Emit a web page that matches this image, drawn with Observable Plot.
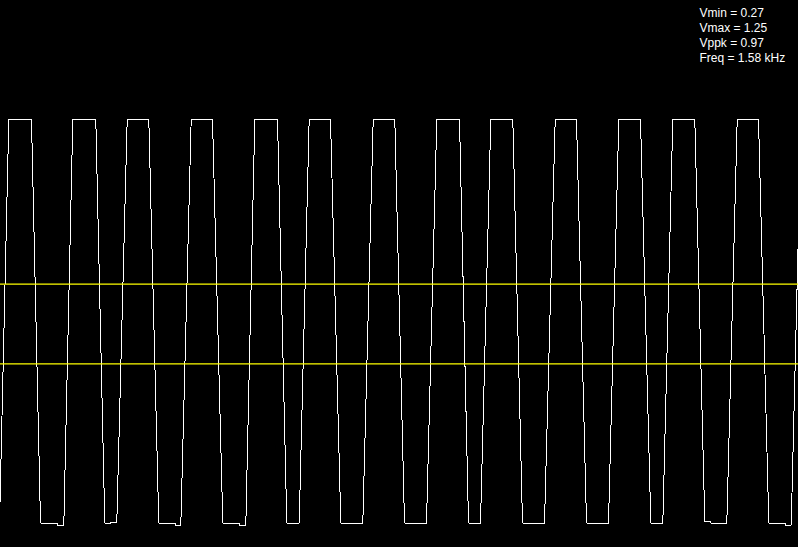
<!DOCTYPE html>
<html>
<head>
<meta charset="utf-8">
<script src="https://cdn.jsdelivr.net/npm/d3@7"></script>
<script src="https://cdn.jsdelivr.net/npm/@observablehq/plot@0.6"></script>
<style>
  html, body { margin: 0; padding: 0; background: #000; }
  #chart svg { display: block; }
</style>
</head>
<body>
<div id="chart"></div>
<script>
// Trace vertices: time (ms) and voltage (V)
const timeMs = [
  -0.209, -0.010, 0.0866, 0.3233, 0.4172, 0.5424, 0.5424, 0.5945, 0.5945, 0.6602,
  0.7541, 0.9940, 1.0878, 1.1473, 1.1473, 1.2130,
  1.3215, 1.5468, 1.6511, 1.7731, 1.7731, 1.8253, 1.8253, 1.8805,
  1.9890, 2.2112, 2.3186, 2.4406, 2.4406, 2.4928, 2.4928, 2.5585,
  2.6523, 2.8891, 2.9861, 3.1154,
  3.2197, 3.4419, 3.5493, 3.7788,
  3.8873, 4.1125, 4.2137, 4.4432,
  4.5506, 4.7874, 4.8812, 5.0064,
  5.1138, 5.3433, 5.4445, 5.6739,
  5.7855, 6.0077, 6.1120, 6.3414,
  6.4489, 6.6752, 6.7826, 6.9078,
  7.0121, 7.2415, 7.3458, 7.4053, 7.4053, 7.5753,
  7.6838, 7.9059, 8.0134, 8.1354, 8.1354, 8.1876, 8.1876, 8.2470,
  8.3513, 8.5526
];
const volts = [
  0.27, 0.27, 1.25, 1.25, 0.27, 0.27, 0.268, 0.268, 0.265, 0.265,
  1.25, 1.25, 0.27, 0.27, 0.272, 0.272,
  1.25, 1.25, 0.27, 0.27, 0.268, 0.268, 0.265, 0.265,
  1.25, 1.25, 0.27, 0.27, 0.268, 0.268, 0.265, 0.265,
  1.25, 1.25, 0.27, 0.27,
  1.25, 1.25, 0.27, 0.27,
  1.25, 1.25, 0.27, 0.27,
  1.25, 1.25, 0.27, 0.27,
  1.25, 1.25, 0.27, 0.27,
  1.25, 1.25, 0.27, 0.27,
  1.25, 1.25, 0.27, 0.27,
  1.25, 1.25, 0.273, 0.273, 0.27, 0.27,
  1.25, 1.25, 0.27, 0.27, 0.268, 0.268, 0.265, 0.265,
  1.25, 1.25
];
// Horizontal reference levels (V)
const levels = [0.656, 0.8497];
// Measurement readout
const statLabels = ["Vmin", "Vmax", "Vppk", "Freq"];
const statValues = ["0.27", "1.25", "0.97", "1.58 kHz"];

const trace = timeMs.map((t, i) => ({t, v: volts[i]}));
const levelRows = levels.map((v) => ({v}));
const readout = [statLabels.map((l, i) => `${l} = ${statValues[i]}`).join("\n")];

const chart = Plot.plot({
  width: 798,
  height: 547,
  margin: 0,
  style: {background: "#000"},
  x: {domain: [0, 8.323], axis: null},
  y: {domain: [0.2106, 1.5375], axis: null},
  marks: [
    Plot.line(trace, {x: "t", y: "v", stroke: "white", strokeWidth: 1, clip: true, shapeRendering: "crispEdges"}),
    Plot.ruleY(levelRows, {y: "v", stroke: "yellow", strokeWidth: 1.2})
    ,
    Plot.text(readout, {
      frameAnchor: "top-left",
      dx: 699, dy: 6,
      textAnchor: "start",
      lineAnchor: "top",
      fill: "white",
      fontSize: 12,
      lineHeight: 1.25,
      fontFamily: "Liberation Sans, Arial, sans-serif"
    })
  ]
});
document.getElementById("chart").append(chart);
</script>
</body>
</html>
